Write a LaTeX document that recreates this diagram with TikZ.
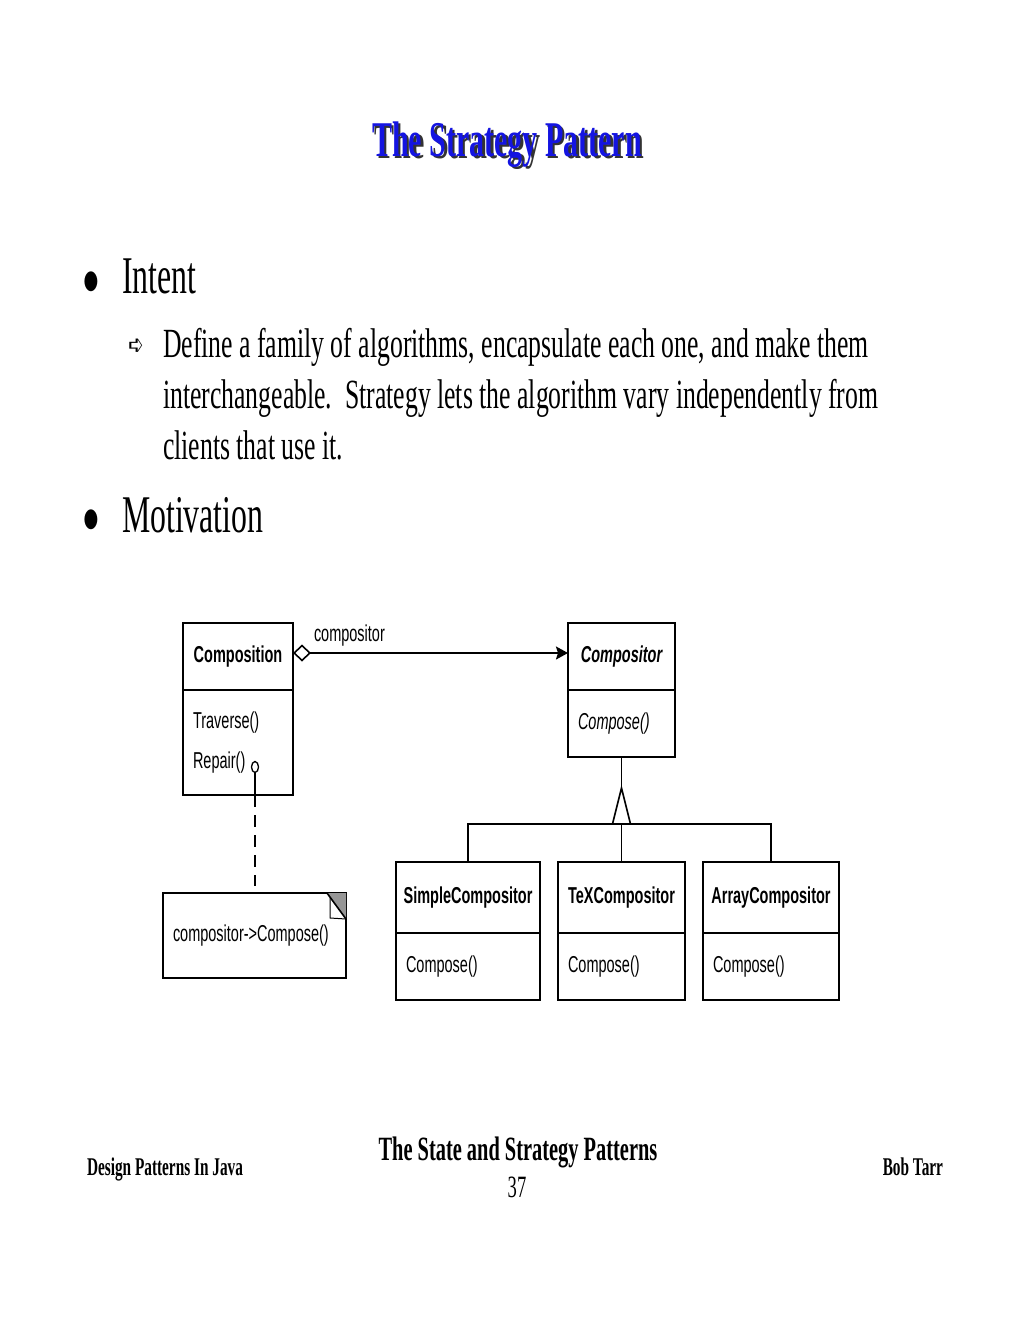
\documentclass[tikz,border=0pt]{standalone}
\usepackage{fontspec}
\setmainfont[FakeStretch=0.6]{Liberation Serif}
\newfontfamily\subfont[FakeStretch=0.62]{Liberation Serif}
\newfontfamily\umlfont[FakeStretch=0.63]{Liberation Sans}
\newfontfamily\symfont[FakeStretch=0.65]{DejaVu Sans}
\usepackage{tikz}
\usetikzlibrary{positioning, arrows.meta}
\definecolor{titleblue}{RGB}{20,20,225}
\definecolor{foldgray}{RGB}{150,150,150}
\tikzset{every node/.append style={inner sep=0pt, outer sep=0pt}}
\tikzset{
  titletext/.style={font=\fontsize{50}{56}\selectfont\bfseries},
  bigtext/.style={font=\fontsize{53}{60}\selectfont},
  subtext/.style={font=\subfont\fontsize{41.5}{51}\selectfont, align=flush left, text width=780pt},
  bulletsym/.style={font=\symfont\fontsize{26}{26}\selectfont},
  arrowsym/.style={font=\symfont\fontsize{28}{28}\selectfont},
  foottext/.style={font=\fontsize{25.5}{30}\selectfont\bfseries},
  head/.style={draw, line width=1.6pt, minimum width=#1, minimum height=67pt,
    font=\umlfont\fontsize{23}{28}\selectfont\bfseries},
  body/.style={draw, line width=1.6pt, text width=#1, inner xsep=10pt, align=flush left,
    minimum height=67pt, font=\umlfont\fontsize{23}{40}\selectfont},
  umlline/.style={line width=1.6pt}
}

\begin{document}
\begin{tikzpicture}[x=1pt, y=-1pt]
    \fill[white] (0,0) rectangle (1020,1320);
    \useasboundingbox (0,0) rectangle (1020,1320);

    % title with shadow
    \node[titletext, text=black!80, anchor=base] (titleshadow) at (509.5,158) {The Strategy Pattern};
    \node[titletext, text=titleblue, anchor=base] (title) at (507,156) {The Strategy Pattern};

    % bullet points
    \node[bulletsym, anchor=base] (bulletA) at (91,288) {●};
    \node[bigtext, anchor=base west] (intent) at (122,293) {Intent};
    \node[arrowsym, anchor=base] (arrowA) at (136,354) {➪};
    \node[subtext, anchor=base west] (define) at (163,357)
        {Define a family of algorithms, encapsulate each one, and make them\\
         interchangeable.\ \ Strategy lets the algorithm vary independently from\\
         clients that use it.};
    \node[bulletsym, anchor=base] (bulletB) at (91,526) {●};
    \node[bigtext, anchor=base west] (motivation) at (122,532) {Motivation};

    % classes
    \node[head=110pt] (compH) at (238,656.5) {Composition};
    \node[body=90pt, minimum height=105pt, below=0pt of compH] (compB) {Traverse()\\Repair()};
    \node[head=107pt, font=\umlfont\fontsize{23}{28}\selectfont\bfseries\itshape] (compoH) at (621.5,656.5) {Compositor};
    \node[body=87pt, font=\umlfont\fontsize{23}{40}\selectfont\itshape, below=0pt of compoH] (compoB) {Compose()};

    \node[head=144pt, minimum height=71pt] (simpH) at (468,897.5) {SimpleCompositor};
    \node[body=124pt, below=0pt of simpH] (simpB) {Compose()};
    \node[head=127pt, minimum height=71pt] (texH) at (621.5,897.5) {TeXCompositor};
    \node[body=107pt, below=0pt of texH] (texB) {Compose()};
    \node[head=136pt, minimum height=71pt] (arrH) at (771,897.5) {ArrayCompositor};
    \node[body=116pt, below=0pt of arrH] (arrB) {Compose()};

    % note
    \node[body=163pt, minimum height=85pt] (note) at (254.5,935.5) {compositor->Compose()};
    \fill[foldgray] (note.north east) -- ++(-19,0) -- ++(19,26) -- cycle;
    \draw[umlline] (note.north east) ++(-19,0) -- ++(19,26);
    \draw[line width=1pt] (note.north east) ++(-16,5) -- ++(0,20) -- ++(16,1);

    % aggregation
    \draw[umlline, {Diamond[fill=white, length=18pt, width=17pt]}-{Stealth[length=12pt, width=13pt, inset=2pt]}]
        ([yshift=3.5pt]compH.east) -- ([yshift=3.5pt]compoH.west)
        node[pos=0, anchor=base west, xshift=21pt, yshift=12pt, font=\umlfont\fontsize{23}{28}\selectfont] (rolelabel) {compositor};

    % inheritance
    \coordinate (fork) at (621.5,824);
    \draw[umlline] (simpH.north) |- (fork) -| (arrH.north);
    \draw[umlline] (texH.north) -- (fork) -- (compoB.south);
    \draw[umlline, fill=white] (fork) ++(-9,0) -- ++(9,-36) -- ++(9,36) -- cycle;

    % note link
    \coordinate (lolli) at (255,767);
    \draw[line width=1.3pt] (lolli) ellipse [x radius=3.5, y radius=5.5];
    \draw[umlline] (lolli) ++(0,5.5) -- (lolli |- compB.south);
    \draw[umlline, dash pattern=on 12pt off 8pt, shorten >=7pt] (lolli |- compB.south) -- (lolli |- note.north);

    % footer
    \node[foottext, anchor=base west] (course) at (87,1175) {Design Patterns In Java};
    \node[font=\fontsize{34}{40}\selectfont\bfseries, anchor=base] (chapter) at (518,1160) {The State and Strategy Patterns};
    \node[font=\fontsize{31}{36}\selectfont, anchor=base] (page) at (517,1197) {37};
    \node[foottext, anchor=base east] (author) at (943,1175) {Bob Tarr};
\end{tikzpicture}
\end{document}
